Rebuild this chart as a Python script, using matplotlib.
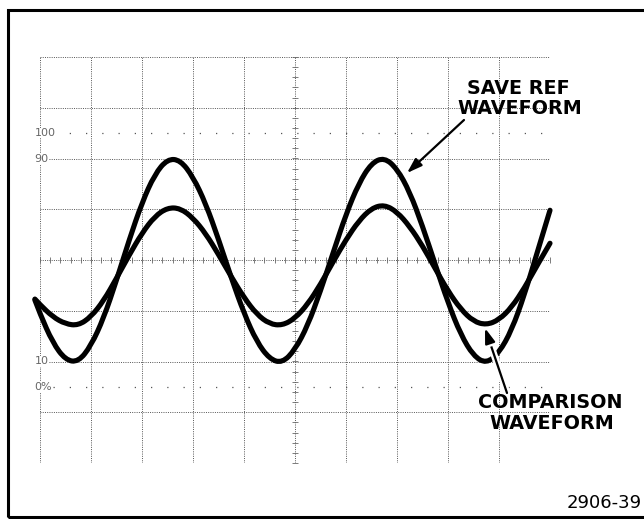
import matplotlib
matplotlib.use("Agg")
import matplotlib.pyplot as plt
import matplotlib.patheffects as pe
from matplotlib.patches import Rectangle, PathPatch
from matplotlib.path import Path
import numpy as np

# graticule: 10 x 8 divisions, waveform values in divisions from centre
grid_x = list(range(0, 11))
grid_y = list(range(-4, 5))

x_div = [-0.1, 0.0, 0.25, 0.5, 0.75, 1.0, 1.25, 1.5, 1.75, 2.0, 2.25, 2.5, 2.75,
         3.0, 3.25, 3.5, 3.75, 4.0, 4.25, 4.5, 4.75, 5.0, 5.25, 5.5, 5.75, 6.0,
         6.25, 6.5, 6.75, 7.0, 7.25, 7.5, 7.75, 8.0, 8.25, 8.5, 8.75, 9.0, 9.25,
         9.5, 9.75, 10.0]
save_ref = [-0.79, -1.06, -1.63, -1.97, -2.01, -1.69, -1.14, -0.40, 0.40, 1.13,
            1.69, 1.99, 1.97, 1.64, 1.11, 0.41, -0.35, -1.05, -1.61, -1.95, -2.03,
            -1.77, -1.29, -0.61, 0.15, 0.90, 1.51, 1.91, 2.02, 1.80, 1.34, 0.67,
            -0.09, -0.84, -1.47, -1.89, -2.04, -1.83, -1.38, -0.68, 0.15, 0.98]
comparison = [-0.77, -0.88, -1.12, -1.26, -1.29, -1.12, -0.80, -0.36, 0.10, 0.53,
              0.86, 1.03, 1.02, 0.83, 0.52, 0.11, -0.33, -0.74, -1.07, -1.26, -1.29,
              -1.15, -0.87, -0.48, -0.03, 0.40, 0.77, 1.02, 1.09, 0.95, 0.66, 0.28,
              -0.17, -0.61, -0.97, -1.21, -1.28, -1.18, -0.93, -0.55, -0.10, 0.33]

level_labels = ["100", "90", "10", "0%"]
level_values = [2.5, 2.0, -2.0, -2.5]

W, H = 644, 519
fig = plt.figure(figsize=(W / 100, H / 100), dpi=100)
fig.patch.set_facecolor("white")

# outer frame
fig.add_artist(Rectangle((8 / W, 2 / H), 660 / W, 507 / H, transform=fig.transFigure,
                         fill=False, lw=2.2, ec="black"))

ax = fig.add_axes([40 / W, (H - 463) / H, 510 / W, 406 / H])
ax.set_xlim(0, 10)
ax.set_ylim(-4, 4)
ax.axis("off")

dot = (0, (1, 1.3))
gc = "#555555"
for gx in grid_x:
    ax.plot([gx, gx], [-4, 4], color=gc, lw=0.7, ls=dot, zorder=1)
for gy in grid_y:
    ax.plot([0, 10], [gy, gy], color=gc, lw=0.7, ls=dot, zorder=1)

# minor ticks on centre lines
minor = np.arange(0, 10.01, 0.2)
ax.plot(minor, np.zeros_like(minor), ls="none", marker="|", ms=4.5, mew=0.6, color="#666666")
minor_y = np.arange(-4, 4.01, 0.2)
ax.plot(np.full_like(minor_y, 5), minor_y, ls="none", marker="_", ms=4.5, mew=0.6, color="#666666")

# 0% / 100% and 10 / 90 levels
for lab, lv in zip(level_labels, level_values):
    if lab in ("100", "0%"):
        ax.plot([0.25, 10], [lv, lv], color=gc, lw=0.9, ls=(0, (1, 12)), zorder=1)
    ax.text(-0.11, lv, lab, ha="left", va="center", fontsize=8, color="#666666",
            family="DejaVu Sans", zorder=4,
            bbox=dict(fc="white", ec="none", pad=0.2))


def trace(xs, ys):
    # smooth quadratic curve guided by the read points
    pts = list(zip(xs, ys))
    verts = [pts[0]]
    codes = [Path.MOVETO]
    for i in range(1, len(pts) - 1):
        nxt = pts[i + 1] if i == len(pts) - 2 else (
            (pts[i][0] + pts[i + 1][0]) / 2, (pts[i][1] + pts[i + 1][1]) / 2)
        verts += [pts[i], nxt]
        codes += [Path.CURVE3, Path.CURVE3]
    patch = PathPatch(Path(verts, codes), fill=False, ec="black", lw=3.7,
                      capstyle="round", joinstyle="round", clip_on=False, zorder=3)
    ax.add_patch(patch)


trace(x_div, save_ref)
trace(x_div, comparison)

arrow_kw = dict(arrowstyle="-|>,head_length=0.9,head_width=0.3", color="black", lw=1.6,
                shrinkA=0, shrinkB=0)
ax.annotate("", xy=(407, H - 173), xycoords="figure pixels",
            xytext=(464, H - 120), textcoords="figure pixels",
            arrowprops=arrow_kw, zorder=5)
a2 = ax.annotate("", xy=(485, H - 328), xycoords="figure pixels",
                 xytext=(507, H - 393), textcoords="figure pixels",
                 arrowprops=arrow_kw, zorder=5)
a2.arrow_patch.set_path_effects([pe.withStroke(linewidth=5, foreground="white")])

tkw = dict(ha="center", va="center", fontsize=13.8, fontweight="bold",
           family="DejaVu Sans", color="black")
fig.text(518.5 / W, 1 - 88.5 / H, "SAVE REF", **tkw)
fig.text(519.5 / W, 1 - 108.5 / H, "WAVEFORM", **tkw)
fig.text(550 / W, 1 - 403 / H, "COMPARISON", **tkw)
fig.text(551.5 / W, 1 - 423.5 / H, "WAVEFORM", **tkw)
fig.text(604.5 / W, 1 - 503 / H, "2906-39", ha="center", va="center", fontsize=13,
         family="DejaVu Sans", color="black")

fig.savefig("out.png", dpi=100)
